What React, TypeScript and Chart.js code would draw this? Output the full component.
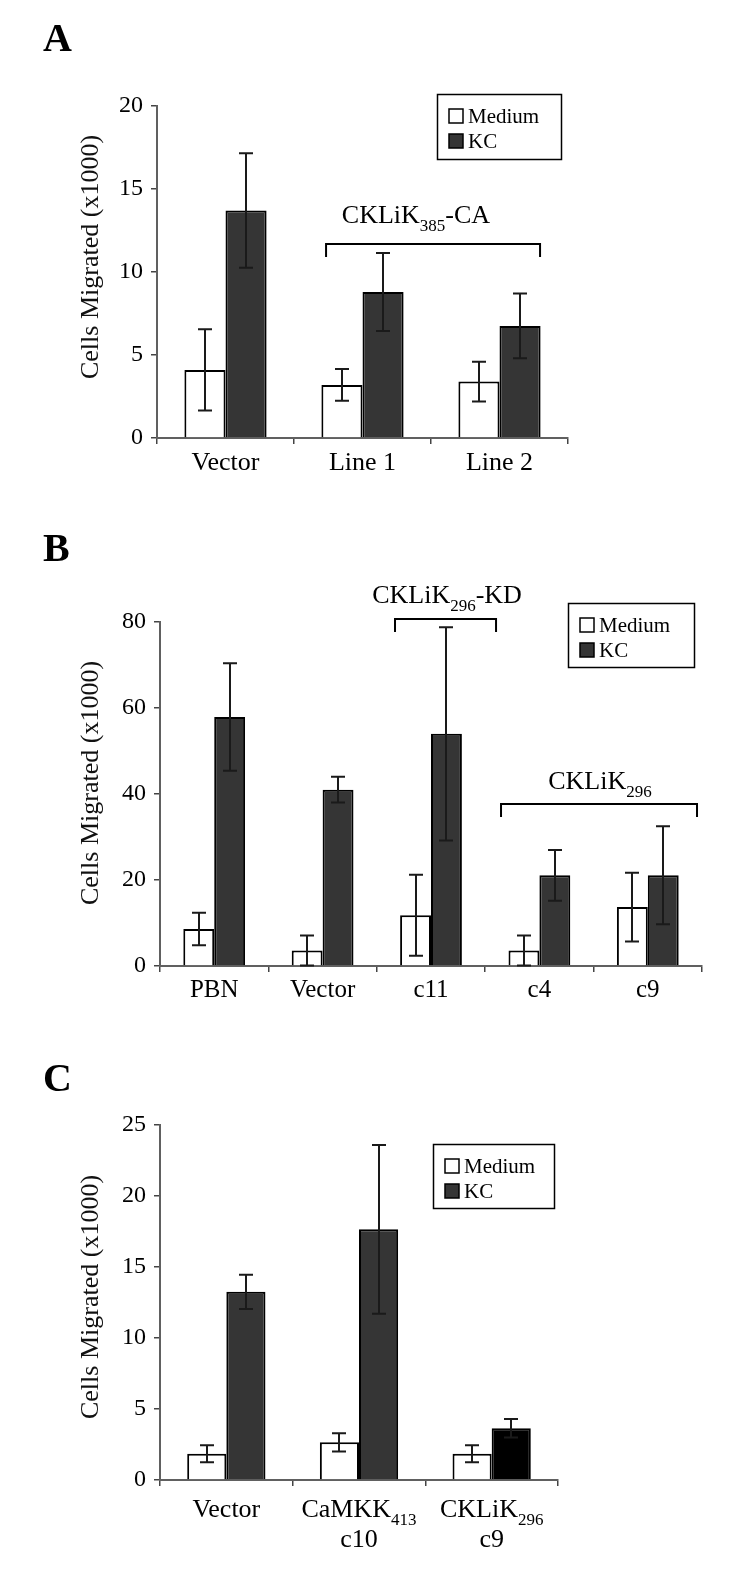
import React, { useEffect, useRef } from 'react';
import { Chart, registerables } from 'chart.js';

Chart.register(...registerables);

const FONT = "'Liberation Serif', 'Times New Roman', serif";
const SERIES = ['Medium', 'KC'];
const Y_TITLE = 'Cells Migrated (x1000)';

// ---------- Panel A ----------
const catsA = ['Vector', 'Line 1', 'Line 2'];
const mediumA = [4.1, 3.2, 3.4];
const mediumErrA = [2.45, 0.95, 1.2];
const kcA = [13.7, 8.8, 6.75];
const kcErrA = [3.45, 2.35, 1.95];
const yTicksA = [0, 5, 10, 15, 20];

// ---------- Panel B ----------
const catsB = ['PBN', 'Vector', 'c11', 'c4', 'c9'];
const mediumB = [8.6, 3.6, 11.8, 3.6, 13.7];
const mediumErrB = [3.8, 3.5, 9.4, 3.5, 8.0];
const kcB = [57.9, 41.0, 54.0, 21.1, 21.1];
const kcErrB = [12.5, 3.0, 24.8, 5.9, 11.4];
const yTicksB = [0, 20, 40, 60, 80];

// ---------- Panel C ----------
const catsC = ['Vector', 'CaMKK413 c10', 'CKLiK296 c9'];
const xLabelsC = [['Vector'], ['CaMKK_{413}', 'c10'], ['CKLiK_{296}', 'c9']];
const mediumC = [1.85, 2.65, 1.85];
const mediumErrC = [0.6, 0.65, 0.6];
const kcC = [13.25, 17.65, 3.65];
const kcErrC = [1.2, 5.95, 0.65];
const yTicksC = [0, 5, 10, 15, 20, 25];

type Bracket = { from: number; to: number; y: number; label: string; labelAt: number; gap: number };
type PanelCfg = {
  key: string;
  top: number;
  height: number;
  area: { left: number; top: number; right: number; bottom: number };
  letter: { text: string; x: number; y: number };
  cats: string[];
  medium: number[];
  mediumErr: number[];
  kc: number[];
  kcErr: number[];
  kcColors: string[];
  yTicks: number[];
  catPct: number;
  yTitleY: number;
  legend: { x: number; y: number; w: number; h: number };
  brackets: Bracket[];
  xFont: number;
  xPad: number;
  richX?: string[][];
};

const DARK = '#353535';

const panels: PanelCfg[] = [
  {
    key: 'A', top: 0, height: 510,
    area: { left: 157, top: 106, right: 568, bottom: 438 },
    letter: { text: 'A', x: 43, y: 51 },
    cats: catsA, medium: mediumA, mediumErr: mediumErrA, kc: kcA, kcErr: kcErrA,
    kcColors: [DARK, DARK, DARK],
    yTicks: yTicksA, catPct: 0.6, yTitleY: 257,
    legend: { x: 437, y: 94, w: 124, h: 65 },
    brackets: [{ from: 0.734, to: 2.296, y: 11.7, label: 'CKLiK_{385}-CA', labelAt: 1.39, gap: 21 }],
    xFont: 26, xPad: 4,
  },
  {
    key: 'B', top: 510, height: 520,
    area: { left: 160, top: 112, right: 702, bottom: 456 },
    letter: { text: 'B', x: 43, y: 51 },
    cats: catsB, medium: mediumB, mediumErr: mediumErrB, kc: kcB, kcErr: kcErrB,
    kcColors: [DARK, DARK, DARK, DARK, DARK],
    yTicks: yTicksB, catPct: 0.57, yTitleY: 273,
    legend: { x: 568, y: 93, w: 126, h: 64 },
    brackets: [
      { from: 1.668, to: 2.6, y: 80.7, label: 'CKLiK_{296}-KD', labelAt: 2.148, gap: 16 },
      { from: 2.646, to: 4.454, y: 37.7, label: 'CKLiK_{296}', labelAt: 3.559, gap: 15 },
    ],
    xFont: 25, xPad: 3,
  },
  {
    key: 'C', top: 1030, height: 541,
    area: { left: 160, top: 95, right: 558, bottom: 450 },
    letter: { text: 'C', x: 43, y: 61 },
    cats: catsC, medium: mediumC, mediumErr: mediumErrC, kc: kcC, kcErr: kcErrC,
    kcColors: [DARK, DARK, '#000000'],
    yTicks: yTicksC, catPct: 0.59, yTitleY: 267,
    legend: { x: 433, y: 114, w: 121, h: 64 },
    brackets: [],
    xFont: 26, xPad: 4,
    richX: xLabelsC,
  },
];

function parseRich(text: string) {
  const parts: { t: string; sub: boolean }[] = [];
  const re = /_\{([^}]*)\}/g;
  let last = 0;
  let m: RegExpExecArray | null;
  while ((m = re.exec(text))) {
    if (m.index > last) parts.push({ t: text.slice(last, m.index), sub: false });
    parts.push({ t: m[1], sub: true });
    last = m.index + m[0].length;
  }
  if (last < text.length) parts.push({ t: text.slice(last), sub: false });
  return parts;
}

function drawRich(ctx: CanvasRenderingContext2D, text: string, cx: number, baseline: number, size: number) {
  const parts = parseRich(text);
  const subSize = Math.round(size * 0.66);
  let total = 0;
  const widths = parts.map((p) => {
    ctx.font = `${p.sub ? subSize : size}px ${FONT}`;
    const w = ctx.measureText(p.t).width;
    total += w;
    return w;
  });
  let x = cx - total / 2;
  ctx.textAlign = 'left';
  ctx.textBaseline = 'alphabetic';
  parts.forEach((p, i) => {
    ctx.font = `${p.sub ? subSize : size}px ${FONT}`;
    ctx.fillText(p.t, x, p.sub ? baseline + size * 0.3 : baseline);
    x += widths[i];
  });
}

function makePlugin(p: PanelCfg) {
  return {
    id: 'annot' + p.key,
    afterDatasetsDraw(chart: any) {
      const ctx: CanvasRenderingContext2D = chart.ctx;
      const ys = chart.scales.y;
      ctx.save();
      ctx.strokeStyle = '#1a1a1a';
      ctx.lineWidth = 2;
      const sets = [
        { vals: p.medium, errs: p.mediumErr },
        { vals: p.kc, errs: p.kcErr },
      ];
      sets.forEach((s, di) => {
        const meta = chart.getDatasetMeta(di);
        meta.data.forEach((el: any, i: number) => {
          const lo = Math.max(0, s.vals[i] - s.errs[i]);
          const hi = s.vals[i] + s.errs[i];
          const yl = ys.getPixelForValue(lo);
          const yh = ys.getPixelForValue(hi);
          const x = Math.round(el.x);
          ctx.beginPath();
          ctx.moveTo(x, yl);
          ctx.lineTo(x, yh);
          ctx.moveTo(x - 7, yh);
          ctx.lineTo(x + 7, yh);
          if (lo > 0) {
            ctx.moveTo(x - 7, yl);
            ctx.lineTo(x + 7, yl);
          }
          ctx.stroke();
        });
      });
      ctx.restore();
    },
    afterDraw(chart: any) {
      const ctx: CanvasRenderingContext2D = chart.ctx;
      const xs = chart.scales.x;
      const ys = chart.scales.y;
      ctx.save();
      ctx.fillStyle = '#000';

      // panel letter
      ctx.font = `bold 40px ${FONT}`;
      ctx.textAlign = 'left';
      ctx.textBaseline = 'alphabetic';
      ctx.fillText(p.letter.text, p.letter.x, p.letter.y);

      // y axis title
      ctx.save();
      ctx.translate(91, p.yTitleY);
      ctx.rotate(-Math.PI / 2);
      ctx.font = `26px ${FONT}`;
      ctx.textAlign = 'center';
      ctx.textBaseline = 'middle';
      ctx.fillStyle = '#111';
      ctx.fillText(Y_TITLE, 0, 0);
      ctx.restore();

      // brackets
      ctx.strokeStyle = '#000';
      ctx.lineWidth = 2;
      p.brackets.forEach((b) => {
        const x1 = xs.getPixelForValue(b.from);
        const x2 = xs.getPixelForValue(b.to);
        const y = Math.round(ys.getPixelForValue(b.y));
        ctx.beginPath();
        ctx.moveTo(x1, y + 13);
        ctx.lineTo(x1, y);
        ctx.lineTo(x2, y);
        ctx.lineTo(x2, y + 13);
        ctx.stroke();
        drawRich(ctx, b.label, xs.getPixelForValue(b.labelAt), y - b.gap, 26);
      });

      // legend
      const L = p.legend;
      ctx.lineWidth = 1.5;
      ctx.strokeStyle = '#000';
      ctx.fillStyle = '#fff';
      ctx.fillRect(L.x, L.y, L.w, L.h);
      ctx.strokeRect(L.x + 0.5, L.y + 0.5, L.w, L.h);
      const rows = [L.y + 22, L.y + 47];
      SERIES.forEach((name, i) => {
        const cy = rows[i];
        ctx.fillStyle = i === 0 ? '#fff' : DARK;
        ctx.fillRect(L.x + 12, cy - 7, 14, 14);
        ctx.strokeStyle = '#000';
        ctx.lineWidth = 1.5;
        ctx.strokeRect(L.x + 12, cy - 7, 14, 14);
        ctx.fillStyle = '#000';
        ctx.font = `21px ${FONT}`;
        ctx.textAlign = 'left';
        ctx.textBaseline = 'middle';
        ctx.fillText(name, L.x + 31, cy + 1);
      });

      // rich x labels
      if (p.richX) {
        ctx.fillStyle = '#000';
        p.richX.forEach((lines, i) => {
          const cx = xs.getPixelForValue(i);
          lines.forEach((ln, j) => {
            drawRich(ctx, ln, cx + (j === 0 && lines.length > 1 ? 0 : 0), p.area.bottom + 37 + j * 30, p.xFont);
          });
        });
      }
      ctx.restore();
    },
  };
}

function buildConfig(p: PanelCfg): any {
  const yMax = p.yTicks[p.yTicks.length - 1];
  return {
    type: 'bar',
    data: {
      labels: p.cats,
      datasets: [
        {
          label: SERIES[0], data: p.medium, backgroundColor: '#ffffff', borderColor: '#000',
          borderWidth: 2, categoryPercentage: p.catPct, barPercentage: 1,
        },
        {
          label: SERIES[1], data: p.kc, backgroundColor: p.kcColors, borderColor: '#000',
          borderWidth: 2, categoryPercentage: p.catPct, barPercentage: 1,
        },
      ],
    },
    options: {
      animation: false,
      responsive: false,
      maintainAspectRatio: false,
      devicePixelRatio: 1,
      layout: { padding: { left: 0, top: p.area.top, right: 750 - p.area.right, bottom: 0 } },
      plugins: { legend: { display: false }, tooltip: { enabled: false }, title: { display: false } },
      scales: {
        x: {
          type: 'category',
          offset: true,
          grid: { display: true, drawOnChartArea: false, drawTicks: true, tickLength: 6, color: '#444', lineWidth: 1.5, offset: true },
          border: { display: true, color: '#606060', width: 2 },
          ticks: {
            color: '#000', font: { family: FONT, size: p.xFont }, padding: p.xPad,
            maxRotation: 0, autoSkip: false,
            callback: (_v: any, i: number) => (p.richX ? '' : p.cats[i]),
          },
          afterFit: (s: any) => { s.height = p.height - p.area.bottom; },
        },
        y: {
          min: 0, max: yMax,
          grid: { display: true, drawOnChartArea: false, drawTicks: true, tickLength: 6, color: '#444', lineWidth: 1.5 },
          border: { display: true, color: '#606060', width: 2 },
          ticks: { color: '#000', font: { family: FONT, size: 24 }, padding: 8 },
          afterBuildTicks: (s: any) => { s.ticks = p.yTicks.map((v) => ({ value: v })); },
          afterFit: (s: any) => { s.width = p.area.left; },
        },
      },
    },
    plugins: [makePlugin(p)],
  };
}

function PanelChart({ cfg }: { cfg: PanelCfg }) {
  const ref = useRef<HTMLCanvasElement>(null);
  useEffect(() => {
    if (!ref.current) return;
    const chart = new Chart(ref.current, buildConfig(cfg));
    return () => chart.destroy();
  }, [cfg]);
  return (
    <canvas
      ref={ref}
      width={750}
      height={cfg.height}
      style={{ position: 'absolute', left: 0, top: cfg.top, width: 750, height: cfg.height, display: 'block' }}
    />
  );
}

export default function App() {
  useEffect(() => {
    document.body.style.overflow = 'hidden';
  }, []);
  return (
    <div style={{ position: 'absolute', left: 0, top: 0, width: 750, height: 1571, background: '#fff' }}>
      {panels.map((p) => (
        <PanelChart key={p.key} cfg={p} />
      ))}
    </div>
  );
}
